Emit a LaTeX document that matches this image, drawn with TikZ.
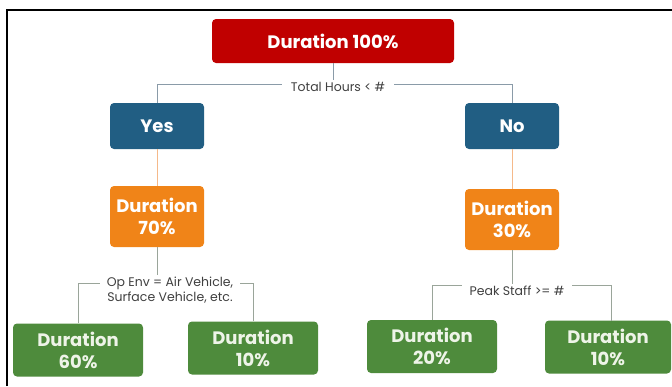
\documentclass[tikz,border=0pt]{standalone}
\usepackage{fontspec}
\setmainfont{Poppins}
\definecolor{durred}{HTML}{C00000}
\definecolor{ansblue}{HTML}{215E83}
\definecolor{durorange}{HTML}{F08418}
\definecolor{durgreen}{HTML}{4E8B3C}
\definecolor{leafwhite}{HTML}{EEF4E8}
\definecolor{linegray}{HTML}{8A9BA8}
\definecolor{lineorange}{HTML}{F5B98A}
\definecolor{linegreen}{HTML}{9AA59A}
\definecolor{labelgray}{HTML}{404040}
\tikzset{
  box/.style={rounded corners=4pt,text=white,align=center,inner sep=0pt,
    font=\fontsize{18}{22}\selectfont\bfseries},
  root/.style={box,fill=durred,minimum width=242pt,minimum height=44pt},
  answer/.style={box,fill=ansblue,minimum width=94pt,minimum height=46pt},
  mid/.style={box,fill=durorange,minimum width=94pt,minimum height=61pt},
  leaf/.style={box,fill=durgreen,text=leafwhite,minimum width=130pt,minimum height=53pt},
  cond/.style={fill=white,text=labelgray,align=center,inner ysep=2pt,
    font=\fontsize{12.5}{15}\selectfont},
}
\begin{document}
\begin{tikzpicture}[x=1pt,y=-1pt]
        \useasboundingbox (0,0) rectangle (672,386);
        \draw[line width=1.2pt] (7,386) -- (7,10) -- (672,10);
        \node[root](top) at (333,41) {Duration 100\%};
        \node[answer](yes) at (157,126) {Yes};
        \node[answer](no) at (512,126) {No};
        \node[mid](d70) at (157,216.5) {Duration\\70\%};
        \node[mid](d30) at (512,219.5) {Duration\\30\%};
        \node[leaf](b60) at (78,350) {Duration\\60\%};
        \node[leaf](b10l) at (253,348) {Duration\\10\%};
        \node[leaf](b20) at (432,346.5) {Duration\\20\%};
        \node[leaf,minimum width=126pt](b10r) at (608,347) {Duration\\10\%};
        \draw[linegray] (yes.north) -- ++(0,-19) -| (no.north);
        \node[cond,inner xsep=9pt](hours) at (338,87) {Total Hours < \#};
        \draw[linegray] (top.south) -- (top.south |- hours.north);
        \draw[lineorange] (yes.south) -- (d70.north);
        \draw[lineorange] (no.south) -- (d30.north);
        \draw[linegreen] (b60.north) -- ++(0,-40) -| (b10l.north);
        \node[cond,inner xsep=7pt](openv) at (170,290) {Op Env = Air Vehicle,\\Surface Vehicle, etc.};
        \draw[linegreen] (d70.south) -- (d70.south |- openv.north);
        \draw[linegreen] (b20.north) -- ++(0,-35) -| (611,320.5);
        \node[cond,inner xsep=8pt](peak) at (517,291) {Peak Staff >= \#};
        \draw[linegreen] (d30.south) -- (d30.south |- peak.north);
        \end{tikzpicture}
\end{document}
